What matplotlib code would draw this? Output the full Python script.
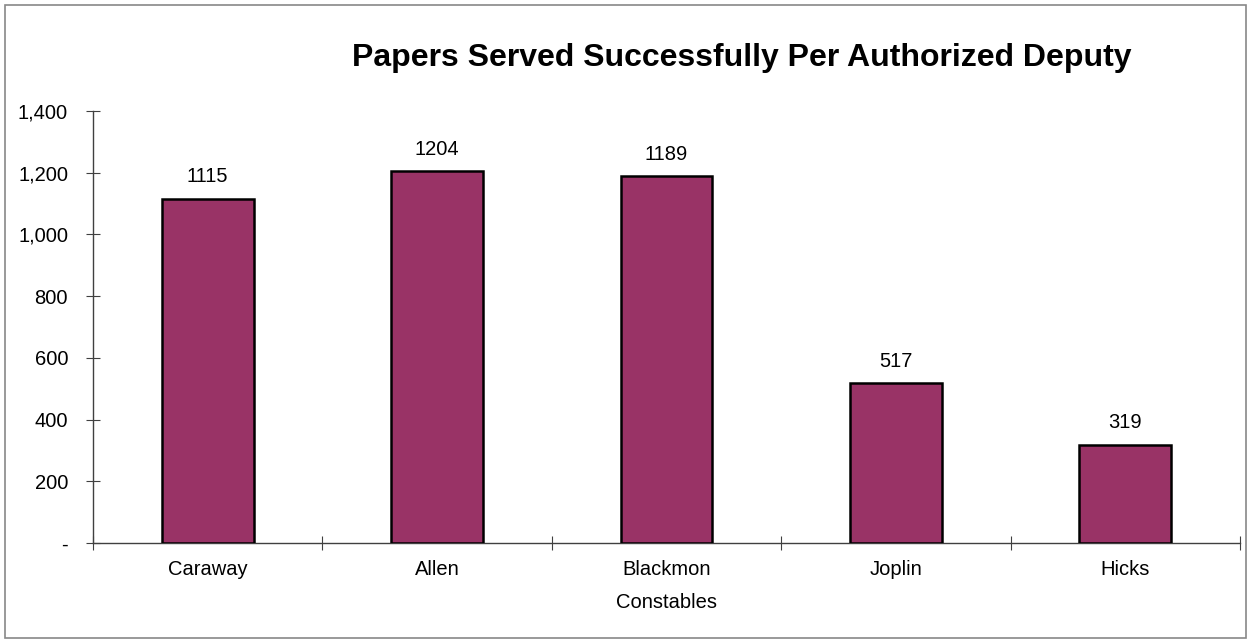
import matplotlib
matplotlib.use("Agg")
import matplotlib.pyplot as plt
from matplotlib.ticker import FuncFormatter, FixedLocator
from matplotlib.patches import Rectangle

categories = ["Caraway", "Allen", "Blackmon", "Joplin", "Hicks"]
values = [1115, 1204, 1189, 517, 319]
title = "Papers Served Successfully Per Authorized Deputy"
xlabel = "Constables"

plt.rcParams['font.family'] = ['Liberation Sans', 'DejaVu Sans']

fig = plt.figure(figsize=(12.51, 6.43), dpi=100)
ax = fig.add_axes([93/1251, 1-543/643, (1240-93)/1251, (543-111)/643])

x = list(range(len(categories)))
bars = ax.bar(x, values, width=0.4, color='#993366', edgecolor='black', linewidth=1.8, zorder=3)
for xi, v in zip(x, values):
    ax.annotate(f"{v}", (xi, v), xytext=(0, 9), textcoords='offset points',
                ha='center', va='bottom', fontsize=14.5)

ax.set_xlim(-0.5, len(categories) - 0.5)
ax.set_ylim(0, 1400)
ax.set_yticks(range(0, 1401, 200))
ax.yaxis.set_major_formatter(FuncFormatter(lambda v, p: '-' if v == 0 else f"{int(v):,}"))
ax.xaxis.set_major_locator(FixedLocator([i - 0.5 for i in range(len(categories) + 1)]))
ax.xaxis.set_major_formatter(FuncFormatter(lambda v, p: ''))
ax.set_xticks(x, minor=True)
ax.set_xticklabels(categories, minor=True)
ax.tick_params(axis='x', which='minor', length=0, labelsize=14.5, pad=12)
ax.tick_params(axis='x', which='major', direction='inout', length=10, color='#404040')
ax.tick_params(axis='y', direction='inout', length=10, labelsize=14.5, pad=13, color='#404040')
for s in ['top', 'right']:
    ax.spines[s].set_visible(False)
for s in ['left', 'bottom']:
    ax.spines[s].set_color('#404040')
    ax.spines[s].set_linewidth(1.0)
ax.set_xlabel(xlabel, fontsize=14.5, labelpad=10)

fig.text(742/1251, 1-58/643, title, ha='center', va='center', fontsize=23, fontweight='bold')
fig.patches.append(Rectangle((5/1251, 5/643), 1241/1251, 633/643, transform=fig.transFigure,
                             fill=False, edgecolor='#888888', linewidth=1.2))

fig.savefig("out.png", dpi=100)
